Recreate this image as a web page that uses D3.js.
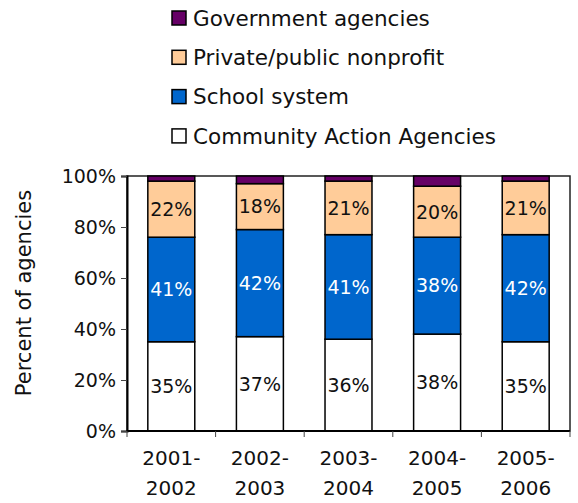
<!DOCTYPE html>
<html>
<head>
<meta charset="utf-8">
<script src="https://cdn.jsdelivr.net/npm/d3@7"></script>
<style>
  html, body { margin: 0; padding: 0; background: #fff; }
  svg text { font-family: "DejaVu Sans", sans-serif; fill: #111; }
</style>
</head>
<body>
<svg id="chart" width="578" height="503"></svg>
<script>
// Agency types by program year, percent of agencies
const years = ["2001-2002", "2002-2003", "2003-2004", "2004-2005", "2005-2006"];
const community = [35, 37, 36, 38, 35];
const school = [41, 42, 41, 38, 42];
const privateNonprofit = [22, 18, 21, 20, 21];
const government = [2, 3, 2, 4, 2];
const yTicks = [0, 20, 40, 60, 80, 100];

const seriesNames = ["Community Action Agencies", "School system", "Private/public nonprofit", "Government agencies"];
const seriesColors = ["#ffffff", "#0066cc", "#ffcc99", "#660066"];
const labelColors = ["#111111", "#ffffff", "#111111", null];

const rows = years.map((y, i) => ({
  year: y,
  "Community Action Agencies": community[i],
  "School system": school[i],
  "Private/public nonprofit": privateNonprofit[i],
  "Government agencies": government[i]
}));

const svg = d3.select("#chart");
const plotLeft = 127, plotRight = 570, plotTop = 176, plotBottom = 431;

const x = d3.scaleBand().domain(years).range([plotLeft, plotRight]).paddingInner(0.47).paddingOuter(0.235);
const y = d3.scaleLinear().domain([0, 100]).range([plotBottom, plotTop]);

const stacked = d3.stack().keys(seriesNames)(rows);

// plot frame
svg.append("rect")
  .attr("x", plotLeft).attr("y", plotTop)
  .attr("width", plotRight - plotLeft).attr("height", plotBottom - plotTop)
  .attr("fill", "none").attr("stroke", "#222").attr("stroke-width", 1.5);

// stacked bars
const layers = svg.append("g").selectAll("g").data(stacked).join("g")
  .attr("fill", (d, i) => seriesColors[i]);

layers.selectAll("rect").data(d => d).join("rect")
  .attr("x", d => x(d.data.year))
  .attr("y", d => y(d[1]))
  .attr("width", x.bandwidth())
  .attr("height", d => y(d[0]) - y(d[1]))
  .attr("stroke", "#000").attr("stroke-width", 1.5);

// value labels inside segments
stacked.forEach((layer, i) => {
  if (!labelColors[i]) return;
  svg.append("g").selectAll("text").data(layer).join("text")
    .attr("x", d => x(d.data.year) + x.bandwidth() / 2)
    .attr("y", d => (y(d[0]) + y(d[1])) / 2)
    .attr("dy", "0.36em")
    .attr("text-anchor", "middle")
    .style("font-size", "19px")
    .style("fill", labelColors[i])
    .text(d => (d[1] - d[0]) + "%");
});

// y axis
const yAxis = svg.append("g").attr("transform", `translate(${plotLeft},0)`)
  .call(d3.axisLeft(y).tickValues(yTicks).tickFormat(d => d + "%").tickSize(6).tickPadding(5));
yAxis.select(".domain").attr("stroke", "#000").attr("stroke-width", 2);
yAxis.selectAll(".tick line").attr("stroke", "#444");
yAxis.selectAll("text").style("font-size", "19px").style("fill", "#111");

// x axis: boundary ticks between categories
const xEdges = d3.range(years.length + 1).map(i => plotLeft + i * (plotRight - plotLeft) / years.length);
svg.append("line").attr("x1", plotLeft).attr("x2", plotRight).attr("y1", plotBottom).attr("y2", plotBottom)
  .attr("stroke", "#000").attr("stroke-width", 2);
svg.append("g").selectAll("line").data(xEdges).join("line")
  .attr("x1", d => d).attr("x2", d => d)
  .attr("y1", plotBottom).attr("y2", plotBottom + 6)
  .attr("stroke", "#444");

const xLabels = svg.append("g").selectAll("text").data(years).join("text")
  .attr("x", d => x(d) + x.bandwidth() / 2)
  .attr("text-anchor", "middle")
  .style("font-size", "20px");
xLabels.append("tspan").attr("x", d => x(d) + x.bandwidth() / 2).attr("y", 465)
  .text(d => d.split("-")[0] + "-");
xLabels.append("tspan").attr("x", d => x(d) + x.bandwidth() / 2).attr("y", 495)
  .text(d => d.split("-")[1]);

// y axis title
svg.append("text")
  .attr("transform", "translate(31,293) rotate(-90)")
  .attr("text-anchor", "middle")
  .style("font-size", "21px")
  .text("Percent of agencies");

// legend, top entry is the top of the stack
const legendOrder = seriesNames.map((n, i) => ({ name: n, color: seriesColors[i] })).reverse();
const legend = svg.append("g").selectAll("g").data(legendOrder).join("g")
  .attr("transform", (d, i) => `translate(172,${18 + i * 39.3})`);
legend.append("rect")
  .attr("x", 0).attr("y", -7).attr("width", 14).attr("height", 14)
  .attr("fill", d => d.color).attr("stroke", "#000").attr("stroke-width", 1.5);
legend.append("text")
  .attr("x", 21).attr("y", 0).attr("dy", "0.36em")
  .style("font-size", "21.5px")
  .text(d => d.name);
</script>
</body>
</html>
